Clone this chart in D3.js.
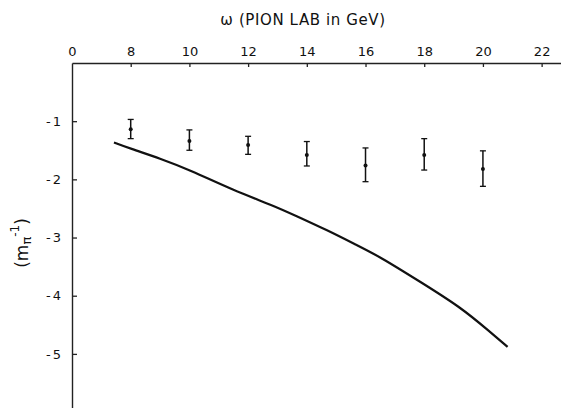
<!DOCTYPE html>
<html>
<head>
<meta charset="utf-8">
<script src="https://cdn.jsdelivr.net/npm/d3@7/dist/d3.min.js"></script>
<style>
  body { margin: 0; background: #fff; }
  text { font-family: "DejaVu Sans", sans-serif; fill: #111; }
</style>
</head>
<body>
<div id="chart"></div>
<script>
const WIDTH = 561;
const HEIGHT = 408;

// top axis: first tick sits at the axis break and is labelled "0"
const xTickValues = [6, 8, 10, 12, 14, 16, 18, 20, 22];
const xTickLabels = ["0", "8", "10", "12", "14", "16", "18", "20", "22"];
const yTickValues = [-1, -2, -3, -4, -5];
const yTickLabels = ["-1", "-2", "-3", "-4", "-5"];

// measured points with error bars
const pointX = [8, 10, 12, 14, 16, 18, 20];
const pointY = [-1.14, -1.34, -1.41, -1.58, -1.76, -1.58, -1.82];
const errTop = [-0.97, -1.15, -1.26, -1.35, -1.46, -1.30, -1.51];
const errBottom = [-1.30, -1.50, -1.57, -1.77, -2.04, -1.84, -2.12];

// theory curve
const curveX = [7.43, 7.98, 9.0, 10.02, 11.5, 12.86, 13.6, 14.68, 15.7, 16.49, 17.86, 19.22, 20.24, 20.84];
const curveY = [-1.365, -1.47, -1.64, -1.84, -2.19, -2.45, -2.62, -2.87, -3.13, -3.33, -3.76, -4.19, -4.62, -4.88];

let svg = d3.select("#chart").append("svg")
  .attr("width", WIDTH)
  .attr("height", HEIGHT);

let x = d3.scaleLinear().domain([6, 22.66]).range([72, 561]);
let y = d3.scaleLinear().domain([0, -5.93]).range([63, 408]);

// top axis
let xAxis = d3.axisTop(x)
  .tickValues(xTickValues)
  .tickSize(0)
  .tickPadding(7)
  .tickFormat((d, i) => xTickLabels[i]);

let gx = svg.append("g")
  .attr("transform", `translate(0,${y(0)})`)
  .call(xAxis);
gx.select(".domain").attr("stroke", "#222").attr("stroke-width", 1.4);
gx.selectAll("text").attr("font-size", 13).attr("dy", 0);

// inward tick marks on the top axis (skip the break at the origin)
gx.selectAll(".tick").filter(d => d !== 6)
  .append("line")
  .attr("y1", 0).attr("y2", 4)
  .attr("stroke", "#222").attr("stroke-width", 1.3);

// left axis
let yAxis = d3.axisLeft(y)
  .tickValues(yTickValues)
  .tickSizeInner(-5)
  .tickSizeOuter(0)
  .tickPadding(8)
  .tickFormat((d, i) => yTickLabels[i]);

let gy = svg.append("g")
  .attr("transform", `translate(${x(6)},0)`)
  .call(yAxis);
gy.select(".domain").attr("stroke", "#222").attr("stroke-width", 1.4);
gy.selectAll(".tick line").attr("stroke", "#222").attr("stroke-width", 1.3);
gy.selectAll("text").attr("font-size", 13).attr("dx", -1).attr("letter-spacing", 2);

// titles
svg.append("text")
  .attr("x", 303).attr("y", 25)
  .attr("text-anchor", "middle")
  .attr("font-size", 15)
  .attr("letter-spacing", 0.6)
  .text("ω  (PION LAB in GeV)");

let ylab = svg.append("text")
  .attr("transform", "translate(28,243) rotate(-90)")
  .attr("text-anchor", "middle")
  .attr("font-size", 17);
ylab.append("tspan").text("(m");
ylab.append("tspan").attr("font-size", 13).attr("dy", 3).text("π");
ylab.append("tspan").attr("font-size", 12).attr("dy", -12).text("-1");
ylab.append("tspan").attr("dy", 9).text(")");

// curve
let line = d3.line()
  .x(d => x(d[0]))
  .y(d => y(d[1]))
  .curve(d3.curveBasis);

svg.append("path")
  .datum(d3.zip(curveX, curveY))
  .attr("d", line)
  .attr("fill", "none")
  .attr("stroke", "#111")
  .attr("stroke-width", 2.2);

// error bars
let pts = svg.append("g")
  .selectAll("g")
  .data(pointX.map((v, i) => ({x: v, y: pointY[i], hi: errTop[i], lo: errBottom[i]})))
  .enter()
  .append("g");

pts.append("line")
  .attr("x1", d => x(d.x)).attr("x2", d => x(d.x))
  .attr("y1", d => y(d.hi)).attr("y2", d => y(d.lo))
  .attr("stroke", "#111").attr("stroke-width", 1.5);

pts.append("line")
  .attr("x1", d => x(d.x) - 3).attr("x2", d => x(d.x) + 3)
  .attr("y1", d => y(d.hi)).attr("y2", d => y(d.hi))
  .attr("stroke", "#111").attr("stroke-width", 1.3);

pts.append("line")
  .attr("x1", d => x(d.x) - 3).attr("x2", d => x(d.x) + 3)
  .attr("y1", d => y(d.lo)).attr("y2", d => y(d.lo))
  .attr("stroke", "#111").attr("stroke-width", 1.3);

pts.append("circle")
  .attr("cx", d => x(d.x))
  .attr("cy", d => y(d.y))
  .attr("r", 2)
  .attr("fill", "#111");
</script>
</body>
</html>
